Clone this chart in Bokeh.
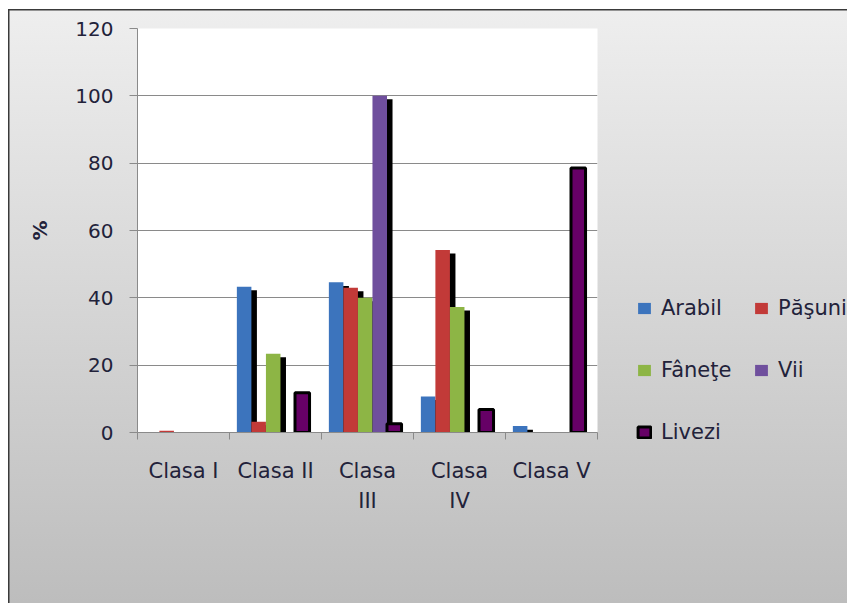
from bokeh.plotting import figure
from bokeh.layouts import row
from bokeh.models import Range1d, FixedTicker, Legend, LegendItem, ColumnDataSource
from bokeh.embed import file_html
from bokeh.resources import INLINE

categories = ["Clasa I", "Clasa II", "Clasa III", "Clasa IV", "Clasa V"]
tick_labels = ["Clasa I", "Clasa II", "Clasa\nIII", "Clasa\nIV", "Clasa V"]
series = ["Arabil", "Păşuni", "Fâneţe", "Vii", "Livezi"]
arabil = [0, 43.3, 44.6, 10.7, 1.9]
pasuni = [0.5, 3.2, 43.0, 54.2, 0]
fanete = [0, 23.4, 40.0, 37.3, 0]
vii = [0, 0, 100, 0, 0]
livezi = [0, 11.8, 2.6, 6.8, 78.6]
y_ticks = [0, 20, 40, 60, 80, 100, 120]

values = [arabil, pasuni, fanete, vii, livezi]
colors = ["#3c74bd", "#c23a38", "#8db545", "#6f4f9d", "#660066"]

FONT = "DejaVu Sans"
TXT = "#22223a"
GRID = "#8a8a8a"

p = figure(width=600, height=603, output_backend="svg", toolbar_location=None,
           x_range=Range1d(0, 5), y_range=Range1d(0, 120),
           min_border_left=137, min_border_right=3, min_border_top=28, min_border_bottom=171)
p.border_fill_color = None
p.background_fill_color = "white"
p.outline_line_color = None
p.frame_align = False

bw = 0.158
shift = -0.025
n = len(categories)
# shadows first
for j, vals in enumerate(values):
    if j == 4:
        continue
    xs = [i + 0.5 + shift + (j - 2) * bw + 0.06 for i in range(n) if vals[i] > 1.05]
    tops = [vals[i] - 1.05 for i in range(n) if vals[i] > 1.05]
    p.vbar(x=xs, top=tops, bottom=0, width=bw, fill_color="black", line_color=None)
sources = []
for j, vals in enumerate(values):
    xs = [i + 0.5 + shift + (j - 2) * bw for i in range(n) if vals[i] > 0]
    tops = [vals[i] for i in range(n) if vals[i] > 0]
    src = ColumnDataSource(dict(x=xs, top=tops))
    sources.append(src)
    if j == 4:
        p.vbar(x="x", top="top", bottom=0, width=bw, source=src,
               fill_color=colors[j], line_color="black", line_width=3)
    else:
        p.vbar(x="x", top="top", bottom=0, width=bw, source=src,
               fill_color=colors[j], line_color=None)

# axes
p.yaxis.ticker = FixedTicker(ticks=y_ticks)
p.yaxis.axis_label = "%"
p.yaxis.axis_label_text_font = FONT
p.yaxis.axis_label_text_font_size = "20px"
p.yaxis.axis_label_text_font_style = "bold"
p.yaxis.axis_label_text_color = TXT
p.yaxis.axis_label_standoff = 20
p.yaxis.major_label_text_font = FONT
p.yaxis.major_label_text_font_size = "20px"
p.yaxis.major_label_text_color = TXT
p.yaxis.major_tick_out = 8
p.yaxis.major_tick_in = 0
p.yaxis.minor_tick_line_color = None
p.yaxis.major_label_standoff = 16
p.yaxis.axis_line_color = GRID
p.yaxis.major_tick_line_color = GRID

centers = [i + 0.5 for i in range(n)]
p.xaxis.ticker = FixedTicker(ticks=centers, minor_ticks=list(range(n + 1)))
p.xaxis.major_label_overrides = {c: t for c, t in zip(centers, tick_labels)}
p.xaxis.major_tick_line_color = None
p.xaxis.major_tick_out = 0
p.xaxis.major_tick_in = 0
p.xaxis.minor_tick_out = 7
p.xaxis.minor_tick_in = 0
p.xaxis.minor_tick_line_color = GRID
p.xaxis.axis_line_color = GRID
p.xaxis.major_label_standoff = 19
p.xaxis.major_label_text_font = FONT
p.xaxis.major_label_text_font_size = "21px"
p.xaxis.major_label_text_color = TXT
p.xaxis.major_label_text_line_height = 1.25

p.xgrid.grid_line_color = None
p.ygrid.grid_line_color = GRID
p.ygrid.grid_line_width = 1

# legend panel (its hidden glyphs share the series sources)
q = figure(width=247, height=603, output_backend="svg", toolbar_location=None,
           x_range=Range1d(100, 101), y_range=Range1d(0, 120),
           x_axis_type=None, y_axis_type=None,
           min_border_left=0, min_border_right=0, min_border_top=0, min_border_bottom=0)
q.border_fill_color = None
q.background_fill_color = None
q.outline_line_color = None
q.grid.grid_line_color = None
q.frame_align = False
leg_r = []
for j in range(len(series)):
    if j == 4:
        r = q.vbar(x="x", top="top", bottom=0, width=bw, source=sources[j],
                   fill_color=colors[j], line_color="black", line_width=3)
    else:
        r = q.vbar(x="x", top="top", bottom=0, width=bw, source=sources[j],
                   fill_color=colors[j], line_color=None)
    r.visible = False
    leg_r.append(r)

def make_legend(idx, loc):
    items = [LegendItem(label=series[k], renderers=[leg_r[k]]) for k in idx]
    lg = Legend(items=items, location=loc, orientation="vertical")
    lg.padding = 0
    lg.margin = 0
    lg.border_line_color = None
    lg.background_fill_color = None
    lg.background_fill_alpha = 0
    lg.inactive_fill_alpha = 0
    lg.glyph_width = 16
    lg.glyph_height = 14
    lg.label_height = 24
    lg.spacing = 38
    lg.label_standoff = 9
    lg.label_text_font = FONT
    lg.label_text_font_size = "21px"
    lg.label_text_color = TXT
    return lg

q.add_layout(make_legend([0, 2, 4], (36, 159)))
q.add_layout(make_legend([1, 3], (153, 221)))

layout = row(p, q)
layout.styles = {"background-image": "linear-gradient(to bottom, #efefef, #bdbdbd)",
                 "box-shadow": "inset 8px 9px 0 0 white, inset 9.5px 10.5px 0 0 #3a3a3a"}

open("out.html", "w").write(file_html(layout, INLINE))
